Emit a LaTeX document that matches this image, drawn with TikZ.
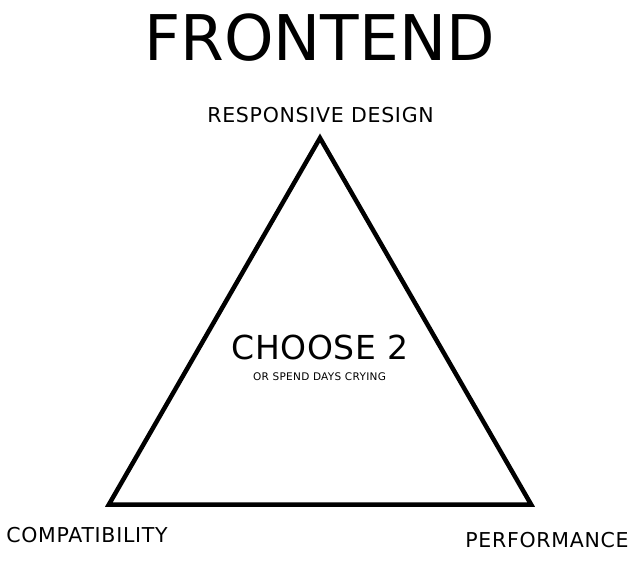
\documentclass[tikz,border=0pt]{standalone}
\usepackage{fontspec}
\setmainfont{DejaVu Sans}
\newfontfamily\labelfont[LetterSpace=3.5]{DejaVu Sans}
\newfontfamily\cryfont[LetterSpace=3]{DejaVu Sans}
\newfontfamily\choosefont[LetterSpace=1.7]{DejaVu Sans}
\usepackage{tikz}

\begin{document}
\begin{tikzpicture}[x=1pt,y=-1pt]
	\useasboundingbox (0,0) rectangle (640,567);
	\tikzset{label/.style={inner sep=0pt,font=\labelfont\fontsize{20.5}{21}\selectfont}}
	\coordinate (top) at (320,138);
	\coordinate (left) at (108.9,504.5);
	\coordinate (right) at (531.1,504.5);
	\draw[line width=4.5pt] (top) -- (left) -- (right) -- cycle;
	\node (title) at (319.5,38)[inner sep=0pt,font=\fontsize{63}{63}\selectfont]{FRONTEND};
	\node (choose) at (320,347.5)[inner sep=0pt,font=\choosefont\fontsize{33}{33}\selectfont]{CHOOSE 2};
	\node (cry) at (319.5,376.5)[inner sep=0pt,font=\cryfont\fontsize{10.5}{11}\selectfont]{OR SPEND DAYS CRYING};
	\node (design) at (320.5,114.7)[label]{RESPONSIVE DESIGN};
	\node (compat) at (87,534.7)[label]{COMPATIBILITY};
	\node (perf) at (547,539.7)[label]{PERFORMANCE};
\end{tikzpicture}
\end{document}
